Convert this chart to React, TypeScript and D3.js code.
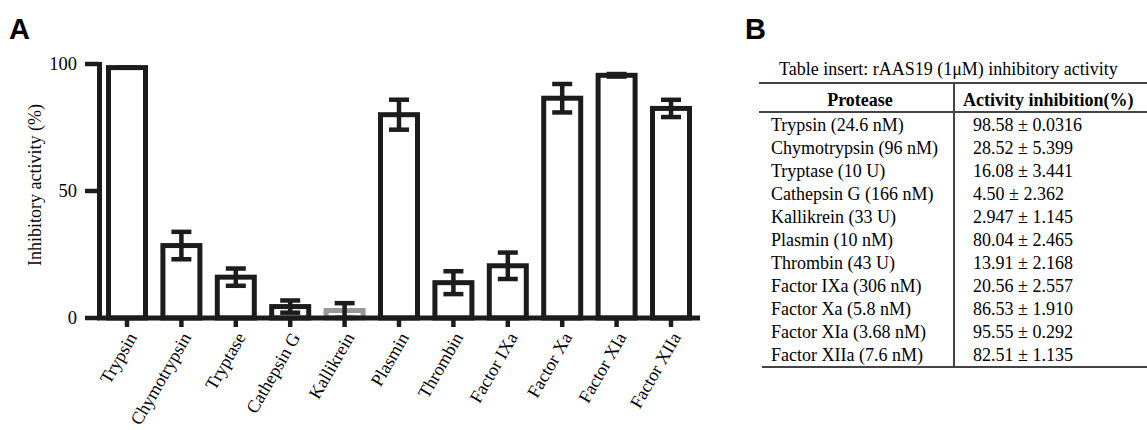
import * as d3 from "d3";
import React from 'react'

// bar chart (panel A)
const categories = ["Trypsin", "Chymotrypsin", "Tryptase", "Cathepsin G", "Kallikrein", "Plasmin", "Thrombin", "Factor IXa", "Factor Xa", "Factor XIa", "Factor XIIa"]
const errors = [0.03, 5.4, 3.4, 2.4, 2.9, 5.9, 4.5, 5.2, 5.6, 0.5, 3.4]
const yTicks = [0, 50, 100]

// table insert (panel B)
const proteases = ["Trypsin (24.6 nM)", "Chymotrypsin (96 nM)", "Tryptase (10 U)", "Cathepsin G (166 nM)", "Kallikrein (33 U)", "Plasmin (10 nM)", "Thrombin (43 U)", "Factor IXa (306 nM)", "Factor Xa (5.8 nM)", "Factor XIa (3.68 nM)", "Factor XIIa (7.6 nM)"]
const meanText = ["98.58", "28.52", "16.08", "4.50", "2.947", "80.04", "13.91", "20.56", "86.53", "95.55", "82.51"]
const sdText = ["0.0316", "5.399", "3.441", "2.362", "1.145", "2.465", "2.168", "2.557", "1.910", "0.292", "1.135"]

const values = meanText.map(Number)

const serif = "'Liberation Serif', 'Times New Roman', serif"
const sans = "'Liberation Sans', Arial, sans-serif"
const ink = "#1c1c1c"

const App: React.FC = () => {
  const W = 1147, H = 430
  const x = d3.scalePoint<string>().domain(categories).range([127, 671])
  const y = d3.scaleLinear().domain([0, 100]).range([318, 64])
  const barW = 37
  const capHalf = 10

  const rowY = d3.scaleLinear().domain([0, 10]).range([131, 361])

  return (
    <div style={{ position: "absolute", left: 0, top: 0 }}>
      <svg width={W} height={H} style={{ display: "block", background: "#fff" }}>
        {/* panel letters */}
        <text x={9} y={39} fontFamily={sans} fontWeight="bold" fontSize={29}>A</text>
        <text x={745} y={39} fontFamily={sans} fontWeight="bold" fontSize={29}>B</text>

        {/* y axis */}
        <line x1={99.5} x2={99.5} y1={y(100) - 2} y2={y(0) + 2} stroke={ink} strokeWidth={5} />
        {yTicks.map(t => (
          <g key={t}>
            <line x1={85} x2={99.5} y1={y(t)} y2={y(t)} stroke={ink} strokeWidth={4.5} />
            <text x={77} y={y(t)} dy="0.35em" textAnchor="end" fontFamily={serif} fontSize={18.5}>{t}</text>
          </g>
        ))}
        <text transform={`translate(35, ${(y(0) + y(100)) / 2 - 6}) rotate(-90)`} textAnchor="middle" dy="0.35em" fontFamily={serif} fontSize={18}>Inhibitory activity (%)</text>

        {/* bars */}
        {categories.map((c, i) => (
          <rect key={c} x={x(c)! - barW / 2} y={y(values[i])} width={barW} height={y(0) - y(values[i])}
            fill="#fff" stroke={c === "Kallikrein" ? "#999" : ink} strokeWidth={5} />
        ))}

        {/* error bars */}
        {categories.map((c, i) => {
          const cx = x(c)!
          const hi = y(values[i] + errors[i]), lo = y(Math.max(0, values[i] - errors[i]))
          return (
            <g key={c} stroke={ink} strokeWidth={4.5}>
              <line x1={cx} x2={cx} y1={hi} y2={lo} />
              <line x1={cx - capHalf} x2={cx + capHalf} y1={hi} y2={hi} />
              <line x1={cx - capHalf} x2={cx + capHalf} y1={lo} y2={lo} />
            </g>
          )
        })}

        {/* x axis */}
        <line x1={97} x2={700} y1={y(0)} y2={y(0)} stroke={ink} strokeWidth={5} />
        {categories.map(c => (
          <g key={c}>
            <line x1={x(c)} x2={x(c)} y1={y(0)} y2={y(0) + 9} stroke={ink} strokeWidth={4.5} />
            <text transform={`translate(${x(c)! + 5}, ${y(0) + 16}) rotate(-60)`} textAnchor="end" dy="0.35em" fontFamily={serif} fontSize={18}>{c}</text>
          </g>
        ))}

        {/* table */}
        <text x={779} y={75} fontFamily={serif} fontSize={18}>Table insert: rAAS19 (1μM) inhibitory activity</text>
        <line x1={759} x2={W} y1={83} y2={83} stroke="#444" strokeWidth={2} />
        <line x1={759} x2={W} y1={112} y2={112} stroke="#444" strokeWidth={2} />
        <line x1={954} x2={954} y1={83} y2={367} stroke="#444" strokeWidth={2} />
        <line x1={762} x2={W} y1={367} y2={367} stroke="#444" strokeWidth={2} />
        <text x={860} y={106} textAnchor="middle" fontFamily={serif} fontWeight="bold" fontSize={18}>Protease</text>
        <text x={963} y={106} fontFamily={serif} fontWeight="bold" fontSize={18}>Activity inhibition(%)</text>
        {proteases.map((p, i) => (
          <g key={p} fontFamily={serif} fontSize={18}>
            <text x={771} y={rowY(i)}>{p}</text>
            <text x={973} y={rowY(i)}>{meanText[i]} ± {sdText[i]}</text>
          </g>
        ))}
      </svg>
    </div>
  )
}

export default App
